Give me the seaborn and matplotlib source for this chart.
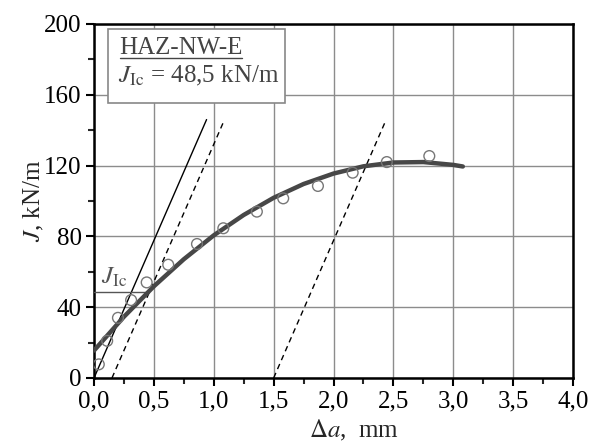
import matplotlib
matplotlib.use("Agg")
import matplotlib.pyplot as plt
import numpy as np
import pandas as pd
import seaborn as sns
from matplotlib.lines import Line2D
from matplotlib.patches import Rectangle
from matplotlib.ticker import MultipleLocator, FuncFormatter

# measured points (crack extension mm, J kN/m)
da_points = [0.04, 0.11, 0.20, 0.31, 0.44, 0.62, 0.86, 1.08, 1.36, 1.58, 1.87, 2.16, 2.445, 2.80]
j_points = [7.7, 21, 34, 44, 54, 64, 75.7, 84.6, 94, 101.5, 108.5, 116, 122, 125.4]

# fitted R-curve
da_fit = [0.0, 0.25, 0.5, 0.75, 1.0, 1.25, 1.5, 1.75, 2.0, 2.25, 2.5, 2.75, 3.0, 3.08]
j_fit = [15.5, 34.6, 51.8, 67.1, 80.6, 92.1, 101.8, 109.6, 115.5, 119.6, 121.75, 122.0, 120.4, 119.5]

# blunting line and offset lines (start, end)
blunt_x = [0.0, 0.94]
blunt_y = [0.0, 146.0]
offset1_x = [0.15, 1.09]
offset2_x = [1.5, 2.44]
offset_y = [0.0, 146.0]

jic = 48.5
jic_x = [0.0, 0.44]

sns.set_style("ticks")
plt.rcParams["font.family"] = ["Liberation Serif", "DejaVu Serif"]
plt.rcParams["mathtext.fontset"] = "stix"

fig = plt.figure(figsize=(5.89, 4.47), dpi=100)
ax = fig.add_axes([94 / 589, 1 - 378 / 447, 479 / 589, 354 / 447])

ax.grid(True, which="major", color="#8c8c8c", linewidth=1.0)
ax.set_axisbelow(True)

ax.plot(blunt_x, blunt_y, color="black", linewidth=1.0, zorder=3)
ax.plot(offset1_x, offset_y, color="black", linewidth=1.0, linestyle=(0, (4, 3)), zorder=3)
ax.plot(offset2_x, offset_y, color="black", linewidth=1.0, linestyle=(0, (4, 3)), zorder=3)
ax.plot(jic_x, [jic, jic], color="#555555", linewidth=1.0, zorder=3)

fit = pd.DataFrame({"da": da_fit, "J": j_fit})
sns.lineplot(data=fit, x="da", y="J", color="#474747", linewidth=3.2, ax=ax, zorder=4, sort=False)

pts = pd.DataFrame({"da": da_points, "J": j_points})
sns.scatterplot(data=pts, x="da", y="J", marker="o", s=60, facecolor="none",
                edgecolor="#777777", linewidth=1.0, ax=ax, zorder=5)

ax.set_xlim(0, 4.0)
ax.set_ylim(0, 200)
ax.xaxis.set_major_locator(MultipleLocator(0.5))
ax.xaxis.set_minor_locator(MultipleLocator(0.25))
ax.yaxis.set_major_locator(MultipleLocator(40))
ax.yaxis.set_minor_locator(MultipleLocator(20))
ax.xaxis.set_major_formatter(FuncFormatter(lambda v, p: f"{v:.1f}".replace(".", ",")))
ax.yaxis.set_major_formatter(FuncFormatter(lambda v, p: f"{v:.0f}"))

ax.tick_params(which="major", direction="out", length=6, width=1.5, labelsize=18, pad=3,
               colors="black")
ax.tick_params(which="minor", direction="out", length=4, width=1.5)
for s in ax.spines.values():
    s.set_linewidth(1.8)
    s.set_color("black")

ax.set_xlabel(r"$\Delta a$,  mm", fontsize=18)
ax.xaxis.set_label_coords(0.543, -0.168)
ax.xaxis.label.set_va("baseline")
ax.set_ylabel(r"$J$, kN/m", fontsize=18)
ax.yaxis.set_label_coords(-0.10, 0.5)

# J_Ic marker label
ax.text(0.06, 57, r"$J_{\mathrm{Ic}}$", fontsize=18, color="#555555", ha="left", va="center", zorder=6)

# info box
ax.add_patch(Rectangle((0.029, 0.777), 0.37, 0.209, transform=ax.transAxes,
                       facecolor="white", edgecolor="#888888", linewidth=1.2, zorder=6))
ax.text(0.053, 0.915, "HAZ-NW-E", transform=ax.transAxes, fontsize=18, color="#444444",
        ha="left", va="baseline", zorder=7)
ax.add_line(Line2D([0.054, 0.309], [0.905, 0.905], transform=ax.transAxes,
                   color="#444444", linewidth=1.0, zorder=7))
ax.text(0.05, 0.836, r"$J_{\mathrm{Ic}}$ = 48,5 kN/m", transform=ax.transAxes, fontsize=18,
        color="#444444", ha="left", va="baseline", zorder=7)

fig.savefig("out.png", dpi=100)
